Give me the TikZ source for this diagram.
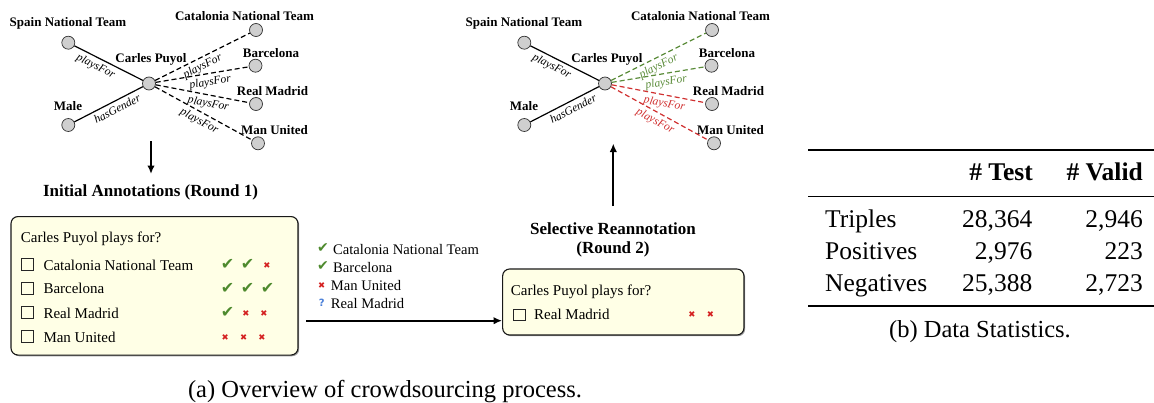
\documentclass[tikz,border=0pt]{standalone}
\usepackage{fontspec}
\setmainfont{Liberation Serif}
\newfontfamily\symf{DejaVu Sans}
\usetikzlibrary{arrows.meta,shadows}
\definecolor{ckg}{HTML}{4E8A2E}
\definecolor{xr}{HTML}{D42020}
\definecolor{qb}{HTML}{4A7FD8}
\definecolor{boxfill}{HTML}{FFFFE6}
\definecolor{vgray}{HTML}{CFCFCF}
\definecolor{eg}{HTML}{5B8C3A}
\definecolor{er}{HTML}{D03030}
\newcommand{\ckm}{{\symf\fontsize{16}{16}\selectfont\color{ckg}✔}}
\newcommand{\cks}{{\symf\fontsize{14}{14}\selectfont\color{ckg}✔}}
\newcommand{\xxm}{{\symf\fontsize{8.5}{8.5}\selectfont\color{xr}✖}}
\newcommand{\qqm}{{\symf\fontsize{10}{10}\selectfont\bfseries\color{qb}?}}
\begin{document}
\begin{tikzpicture}[x=1pt,y=-1pt,
  vtx/.style={circle,draw=black!80,fill=vgray,line width=0.7pt,minimum size=13pt,inner sep=0pt},
  vlab/.style={font=\fontsize{13}{15}\selectfont\bfseries,inner sep=0pt,anchor=base},
  elab/.style={font=\fontsize{11.5}{13}\selectfont\itshape,inner sep=3.3pt},
  sedge/.style={line width=1.2pt},
  dedge/.style={line width=1.2pt,dash pattern=on 5pt off 3pt},
  head/.style={font=\fontsize{17}{20}\selectfont\bfseries,inner sep=0pt,anchor=base},
  qtext/.style={font=\fontsize{15}{18}\selectfont,inner sep=0pt,anchor=base west},
  ltext/.style={font=\fontsize{14.6}{17}\selectfont,inner sep=0pt,anchor=base west},
  cbox/.style={draw=black!85,line width=0.7pt,minimum size=11.5pt,inner sep=0pt},
  amark/.style={inner sep=0pt,anchor=center},
  panel/.style={draw=black!90,line width=1.1pt,fill=boxfill,rounded corners=7pt,
     drop shadow={shadow xshift=1.2pt,shadow yshift=-1.2pt,fill=black!55,opacity=0.7}},
  bigarrow/.style={line width=2pt,-{Latex[length=8.5pt,width=7.5pt]}},
  tabf/.style={font=\fontsize{25.5}{30}\selectfont,inner sep=0pt},
  capf/.style={font=\fontsize{24.5}{29}\selectfont,inner sep=0pt,anchor=base},
]
\useasboundingbox (0,0) rectangle (1154,402);

% ---------------- left graph ----------------
\node[vtx] (sp) at (68.3,42.7) {};
\node[vtx] (ml) at (68.3,125) {};
\node[vtx] (cp) at (149,83.5) {};
\node[vtx] (ca) at (256,30) {};
\node[vtx] (ba) at (255.5,65.7) {};
\node[vtx] (rm) at (256,104) {};
\node[vtx] (mu) at (258,143.3) {};
\node[vlab] (lsp) at (68,26) {Spain National Team};
\node[vlab] (lml) at (68,110.5) {Male};
\node[vlab] (lcp) at (151,62.5) {Carles Puyol};
\node[vlab] (lca) at (244.5,20) {Catalonia National Team};
\node[vlab] (lba) at (271,57) {Barcelona};
\node[vlab] (lrm) at (272.5,95) {Real Madrid};
\node[vlab] (lmu) at (274.5,134) {Man United};
\draw[sedge] (sp) -- node[elab,below,sloped,pos=0.37] {playsFor} (cp);
\draw[sedge] (ml) -- node[elab,below,sloped,pos=0.57] {hasGender} (cp);
\draw[dedge] (cp) -- node[elab,below,sloped,pos=0.46] {playsFor} (ca);
\draw[dedge] (cp) -- node[elab,below,sloped,pos=0.57] {playsFor} (ba);
\draw[dedge] (cp) -- node[elab,below,sloped,pos=0.58] {playsFor} (rm);
\draw[dedge] (cp) -- node[elab,below,sloped,pos=0.5] {playsFor} (mu);

% ---------------- right graph ----------------
\begin{scope}[xshift=456pt]
\node[vtx] (sp2) at (68.3,42.7) {};
\node[vtx] (ml2) at (68.3,125) {};
\node[vtx] (cp2) at (149,83.5) {};
\node[vtx] (ca2) at (256,30) {};
\node[vtx] (ba2) at (255.5,65.7) {};
\node[vtx] (rm2) at (256,104) {};
\node[vtx] (mu2) at (258,143.3) {};
\node[vlab] (lsp2) at (68,26) {Spain National Team};
\node[vlab] (lml2) at (68,110.5) {Male};
\node[vlab] (lcp2) at (151,62.5) {Carles Puyol};
\node[vlab] (lca2) at (244.5,20) {Catalonia National Team};
\node[vlab] (lba2) at (271,57) {Barcelona};
\node[vlab] (lrm2) at (272.5,95) {Real Madrid};
\node[vlab] (lmu2) at (274.5,134) {Man United};
\draw[sedge] (sp2) -- node[elab,below,sloped,pos=0.37] {playsFor} (cp2);
\draw[sedge] (ml2) -- node[elab,below,sloped,pos=0.57] {hasGender} (cp2);
\draw[dedge,eg] (cp2) -- node[elab,below,sloped,pos=0.46] {playsFor} (ca2);
\draw[dedge,eg] (cp2) -- node[elab,below,sloped,pos=0.57] {playsFor} (ba2);
\draw[dedge,er] (cp2) -- node[elab,below,sloped,pos=0.58] {playsFor} (rm2);
\draw[dedge,er] (cp2) -- node[elab,below,sloped,pos=0.5] {playsFor} (mu2);
\end{scope}

% ---------------- round 1 ----------------
\coordinate (a1s) at (151,141);
\coordinate (a1e) at (151,174);
\draw[bigarrow] (a1s) -- (a1e);
\node[head] (h1) at (150.5,196.5) {Initial Annotations (Round 1)};

\node[panel,minimum width=287pt,minimum height=138.5pt] (box1) at (154.5,285.8) {};
\node[qtext] (q1) at (20.7,242) {Carles Puyol plays for?};
\node[cbox] (cb1) at (27.5,264.5) {};
\node[cbox] (cb2) at (27.5,288.3) {};
\node[cbox] (cb3) at (27.5,312.5) {};
\node[cbox] (cb4) at (27.5,336.5) {};
\node[qtext] (o1) at (43.3,270) {Catalonia National Team};
\node[qtext] (o2) at (43.3,293.8) {Barcelona};
\node[qtext] (o3) at (43.3,318) {Real Madrid};
\node[qtext] (o4) at (43.3,342) {Man United};
% marks row 1
\node[amark] (m11) at (227.5,264) {\ckm};
\node[amark] (m12) at (247.5,264) {\ckm};
\node[amark] (m13) at (267,265.5) {\xxm};
% row 2
\node[amark] (m21) at (227.5,288) {\ckm};
\node[amark] (m22) at (247.5,288) {\ckm};
\node[amark] (m23) at (267.5,288) {\ckm};
% row 3
\node[amark] (m31) at (227.5,312) {\ckm};
\node[amark] (m32) at (246,313.5) {\xxm};
\node[amark] (m33) at (264,313.5) {\xxm};
% row 4
\node[amark] (m41) at (225.3,337.5) {\xxm};
\node[amark] (m42) at (243.7,337.5) {\xxm};
\node[amark] (m43) at (262,337.5) {\xxm};

% ---------------- middle list ----------------
\node[amark] (l1m) at (323,248.5) {\cks};
\node[ltext] (l1) at (333,254) {Catalonia National Team};
\node[amark] (l2m) at (323,266.5) {\cks};
\node[ltext] (l2) at (333,272) {Barcelona};
\node[amark] (l3m) at (321.7,285.5) {\xxm};
\node[ltext] (l3) at (330.7,290) {Man United};
\node[amark] (l4m) at (321.7,303) {\qqm};
\node[ltext] (l4) at (330.7,308) {Real Madrid};

% ---------------- round 2 ----------------
\node[panel,minimum width=241.3pt,minimum height=66pt] (box2) at (623.3,302) {};
\coordinate (a2s) at (306,320.7);
\draw[bigarrow] (a2s) -- (box2.west |- a2s);
\node[head] (h2a) at (613,234) {Selective Reannotation};
\node[head] (h2b) at (613,253.5) {(Round 2)};
\coordinate (a3s) at (613.3,206);
\coordinate (a3e) at (613.3,143.5);
\draw[bigarrow] (a3s) -- (a3e);
\node[qtext] (q2) at (510.7,295.7) {Carles Puyol plays for?};
\node[cbox] (cb5) at (519.5,314.7) {};
\node[qtext] (o5) at (534,319.5) {Real Madrid};
\node[amark] (m51) at (692,315) {\xxm};
\node[amark] (m52) at (710.5,315) {\xxm};

% ---------------- table ----------------
\coordinate (t1l) at (808,149.5); \coordinate (t1r) at (1154,149.5);
\coordinate (t2l) at (808,196.3); \coordinate (t2r) at (1154,196.3);
\coordinate (t3l) at (808,306); \coordinate (t3r) at (1154,306);
\draw[line width=2pt] (t1l) -- (t1r);
\draw[line width=1.2pt] (t2l) -- (t2r);
\draw[line width=2pt] (t3l) -- (t3r);
\node[tabf,font=\fontsize{25.5}{30}\selectfont\bfseries,anchor=base east] (ht) at (1033,180) {\# Test};
\node[tabf,font=\fontsize{25.5}{30}\selectfont\bfseries,anchor=base east] (hv) at (1143,180) {\# Valid};
\node[tabf,anchor=base west] (r1) at (825,227) {Triples};
\node[tabf,anchor=base east] (r1t) at (1032.5,227) {28,364};
\node[tabf,anchor=base east] (r1v) at (1143,227) {2,946};
\node[tabf,anchor=base west] (r2) at (825,259) {Positives};
\node[tabf,anchor=base east] (r2t) at (1032.5,259) {2,976};
\node[tabf,anchor=base east] (r2v) at (1143,259) {223};
\node[tabf,anchor=base west] (r3) at (825,291.5) {Negatives};
\node[tabf,anchor=base east] (r3t) at (1032.5,291.5) {25,388};
\node[tabf,anchor=base east] (r3v) at (1143,291.5) {2,723};
\node[capf] (capb) at (980,337) {(b) Data Statistics.};

% ---------------- caption a ----------------
\node[capf] (capa) at (385,397) {(a) Overview of crowdsourcing process.};
\end{tikzpicture}
\end{document}
